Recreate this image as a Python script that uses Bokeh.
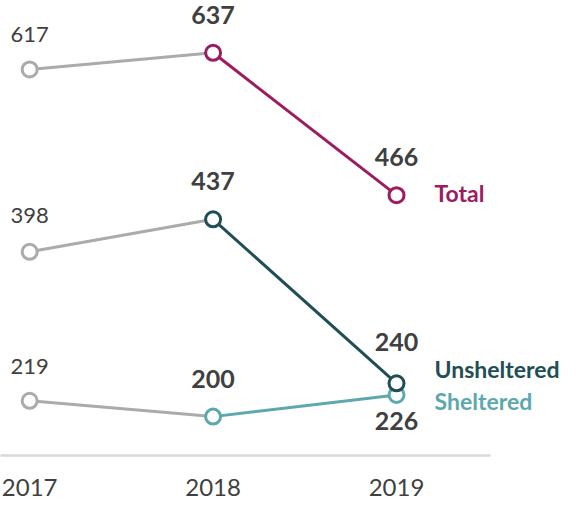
from bokeh.plotting import figure
from bokeh.models import ColumnDataSource, FixedTicker, Range1d
from bokeh.core.properties import value
from bokeh.embed import file_html
from bokeh.resources import INLINE

years = [2017, 2018, 2019]
series_names = ["Sheltered", "Unsheltered", "Total"]
sheltered = [219, 200, 226]
unsheltered = [398, 437, 240]
total = [617, 637, 466]
series_values = {"Sheltered": sheltered, "Unsheltered": unsheltered, "Total": total}
colors = {"Total": "#9C1C60", "Unsheltered": "#1F4E55", "Sheltered": "#5DA8AC"}
GRAY = "#ABABAB"
TEXT = "#404040"
FONT = "Lato"

# label placement (screen pixels, positive = down)
label_offsets = {
    "Total": [-35, -38, -38],
    "Unsheltered": [-36, -38, -41],
    "Sheltered": [-34, -38, 26],
}
name_offsets = {"Total": -2, "Unsheltered": -14, "Sheltered": 6}

p = figure(width=560, height=505, output_backend="svg", toolbar_location=None,
           x_range=Range1d(2016.841, 2019.894), y_range=Range1d(153.3, 699.8),
           y_axis_location=None,
           min_border_left=0, min_border_right=0, min_border_top=0, min_border_bottom=50)
p.xgrid.visible = False
p.ygrid.visible = False
p.outline_line_color = None

ax = p.xaxis[0]
ax.ticker = FixedTicker(ticks=years)
ax.major_tick_line_color = None
ax.minor_tick_line_color = None
ax.axis_line_color = "#D9D9D9"
ax.axis_line_width = 2.5
ax.bounds = (2016.841, 2019.51)
ax.major_label_text_font = FONT
ax.major_label_text_font_size = "24px"
ax.major_label_text_color = TEXT
ax.major_label_standoff = 17

for name in series_names:
    vals = series_values[name]
    c = colors[name]
    p.line(years[:2], vals[:2], line_color=GRAY, line_width=3)
    p.line(years[1:], vals[1:], line_color=c, line_width=3)
    p.scatter(years[:1], vals[:1], size=15, marker="circle", fill_color="white",
              line_color=GRAY, line_width=3)
    p.scatter(years[1:], vals[1:], size=15, marker="circle", fill_color="white",
              line_color=c, line_width=3)

for name in series_names:
    vals = series_values[name]
    offs = label_offsets[name]
    src0 = ColumnDataSource(dict(x=years[:1], y=vals[:1], t=[str(v) for v in vals[:1]], yo=offs[:1]))
    p.text(x="x", y="y", text="t", y_offset="yo", source=src0, text_align="center",
           text_baseline="middle", text_font=value(FONT), text_font_size="22px",
           text_color=TEXT)
    src1 = ColumnDataSource(dict(x=years[1:], y=vals[1:], t=[str(v) for v in vals[1:]], yo=offs[1:]))
    p.text(x="x", y="y", text="t", y_offset="yo", source=src1, text_align="center",
           text_baseline="middle", text_font=value(FONT), text_font_size="25px",
           text_font_style="bold", text_color=TEXT)
    p.text(x=[years[-1]], y=[vals[-1]], text=[name], x_offset=38, y_offset=name_offsets[name],
           text_align="left", text_baseline="middle", text_font=value(FONT),
           text_font_size="23px", text_font_style="bold", text_color=colors[name])

open("out.html", "w").write(file_html(p, INLINE))
